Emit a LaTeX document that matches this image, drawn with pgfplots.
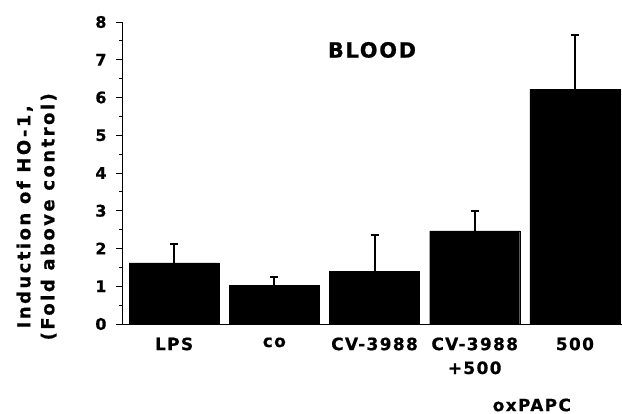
\documentclass[border=0pt]{standalone}
\usepackage{pgfplots}
\pgfplotsset{compat=1.18}
\usepackage{fontspec}
\setmainfont{DejaVu Sans}[BoldFont={DejaVu Sans Bold}, BoldFeatures={FakeBold=0.6}, LetterSpace=8]

\pgfplotstableread{
x val err
0 1.62 0.50
1 1.02 0.23
2 1.39 0.98
3 2.47 0.53
4 6.22 1.44
}\blood

\begin{document}
\bfseries
\begin{tikzpicture}
\begin{axis}[
    scale only axis,
    width=499bp, height=302bp,
    xmin=-0.51, xmax=4.47,
    ymin=0, ymax=8,
    axis x line=bottom, axis y line=left,
    axis line style={-, line width=1bp},
    ytick={0,...,8},
    minor y tick num=1,
    tick align=outside,
    major tick length=7bp, minor tick length=4bp,
    every tick/.style={black, line width=1bp},
    xtick=data,
    xticklabels={LPS, co, CV-3988, {CV-3988\\+500}, 500},
    xticklabel style={align=center, font=\fontsize{17}{24}\selectfont\bfseries, yshift=-3bp},
    x tick style={draw=none},
    yticklabel style={font=\fontsize{16}{19}\selectfont\bfseries, xshift=-6bp},
    /pgf/number format/assume math mode=true,
    ylabel={Induction of HO-1,\\(Fold above control)},
    ylabel style={at={(axis description cs:-0.173,0.355)}, anchor=center,
        align=center, font=\fontsize{18}{24}\selectfont\bfseries\addfontfeatures{LetterSpace=14}},
    clip=false,
]
\addplot[ybar, bar width=90bp, fill=black, draw=black,
    error bars/.cd, y dir=plus, y explicit,
    error bar style={line width=2bp, black},
    error mark options={rotate=90, mark size=4bp, line width=2bp, black}]
    table[x=x, y=val, y error=err] {\blood};
\node[font=\fontsize{21}{24}\selectfont\bfseries] at (axis cs:1.975,7.26) {BLOOD};
\node[font=\fontsize{17}{20}\selectfont\bfseries, inner sep=0pt, yshift=-81bp] at (axis cs:3.57,0) {oxPAPC};
\coordinate (bl) at (rel axis cs:0,0);
\end{axis}
\pgfresetboundingbox
\path (bl) ++(-123bp,-90bp) rectangle ++(622bp,414bp);
\end{tikzpicture}
\end{document}
